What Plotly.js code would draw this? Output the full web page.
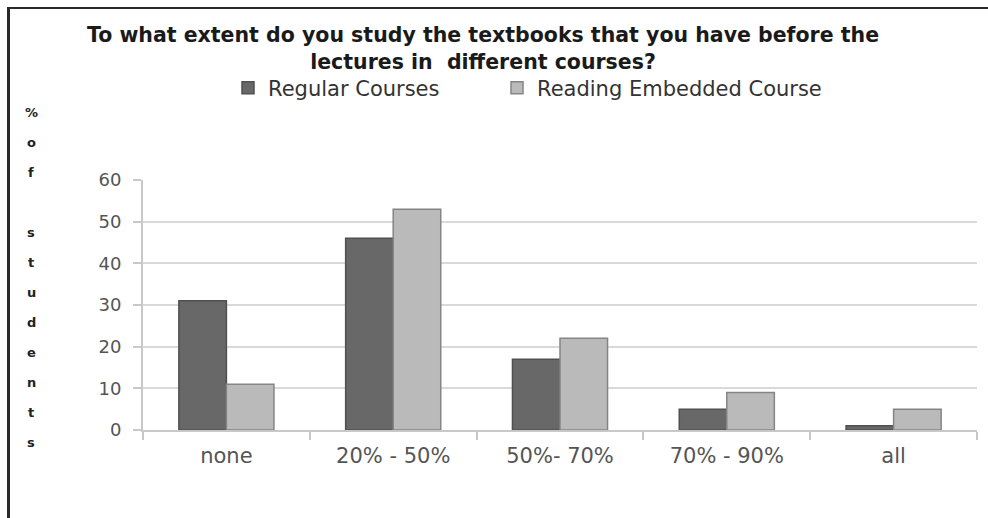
<!DOCTYPE html>
<html>
<head>
<meta charset="utf-8">
<script src="https://cdn.plot.ly/plotly-3.0.1.min.js"></script>
<style>
  html, body { margin: 0; padding: 0; background: #fff; }
  #wrap { position: relative; width: 988px; height: 518px; overflow: hidden; }
  #chart { position: absolute; left: 0; top: 0; width: 988px; height: 518px; }
  #frame { position: absolute; left: 7px; top: 7px; width: 990px; height: 520px;
           border-top: 2px solid #2a2a2a; border-left: 3px solid #2a2a2a; pointer-events: none; }
</style>
</head>
<body>
<div id="wrap">
  <div id="chart"></div>
  <div id="frame"></div>
</div>
<script>
const categories = ["none", "20% - 50%", "50%- 70%", "70% - 90%", "all"];
const regularCourses = [31, 46, 17, 5, 1];
const readingEmbedded = [11, 53, 22, 9, 5];
const seriesNames = ["Regular Courses", "Reading Embedded Course"];
const yTicks = [0, 10, 20, 30, 40, 50, 60];
const titleText = "To what extent do you study the textbooks that you have before the<br>lectures in  different courses?";
const yTitleLetters = ["%", "o", "f", "", "s", "t", "u", "d", "e", "n", "t", "s"];

const traces = [
  {
    type: "bar", name: seriesNames[0], x: categories, y: regularCourses,
    marker: { color: "#686868", line: { color: "#505050", width: 1.5 } },
    hoverinfo: "x+y", legend: "legend"
  },
  {
    type: "bar", name: seriesNames[1], x: categories, y: readingEmbedded,
    marker: { color: "#bababa", line: { color: "#858585", width: 1.5 } },
    hoverinfo: "x+y", legend: "legend2"
  }
];

// plot area: top 180px, bottom 430px (250px tall)
const annotations = yTitleLetters.map((ch, i) => ({
  text: ch, xref: "paper", yref: "paper",
  x: (31 - 143) / 834, y: (430 - (112 + i * 30)) / 250,
  xanchor: "center", yanchor: "middle", showarrow: false,
  font: { family: "DejaVu Sans", size: 13, color: "#222", weight: "bold" }
}));

const legendFont = { family: "DejaVu Sans", size: 21, color: "#333" };

const layout = {
  width: 988, height: 518,
  margin: { l: 143, r: 11, t: 180, b: 88 },
  paper_bgcolor: "#ffffff", plot_bgcolor: "#ffffff",
  title: {
    text: titleText, xref: "container", yref: "container",
    x: 483 / 988, xanchor: "center", y: 1 - 42 / 518, yanchor: "middle",
    font: { family: "DejaVu Sans", size: 20.5, color: "#1a1a1a", weight: "bold" }
  },
  barmode: "group", bargap: 0.43, bargroupgap: 0,
  showlegend: true,
  legend: {
    orientation: "h", x: (228 - 143) / 834, xanchor: "left",
    y: (430 - 88) / 250, yanchor: "middle",
    font: legendFont, bgcolor: "rgba(0,0,0,0)"
  },
  legend2: {
    orientation: "h", x: (497 - 143) / 834, xanchor: "left",
    y: (430 - 88) / 250, yanchor: "middle",
    font: legendFont, bgcolor: "rgba(0,0,0,0)"
  },
  xaxis: {
    type: "category", showgrid: false, showline: true, linecolor: "#c8c8c8", linewidth: 2,
    ticks: "outside", tickson: "boundaries", ticklen: 8, tickcolor: "#c8c8c8", tickwidth: 2,
    tickfont: { family: "DejaVu Sans", size: 21, color: "#555" },
    ticklabelstandoff: 6,
    fixedrange: true
  },
  yaxis: {
    range: [0, 60], tickvals: yTicks, showgrid: true, gridcolor: "#d9d9d9", gridwidth: 2,
    showline: true, linecolor: "#c8c8c8", linewidth: 2,
    ticks: "outside", ticklen: 8, tickcolor: "#c8c8c8", tickwidth: 2,
    tickfont: { family: "DejaVu Sans", size: 18, color: "#555" },
    ticklabelstandoff: 8,
    zeroline: false, fixedrange: true
  },
  annotations: annotations
};

Plotly.newPlot("chart", traces, layout, { displayModeBar: false, staticPlot: true });
</script>
</body>
</html>
